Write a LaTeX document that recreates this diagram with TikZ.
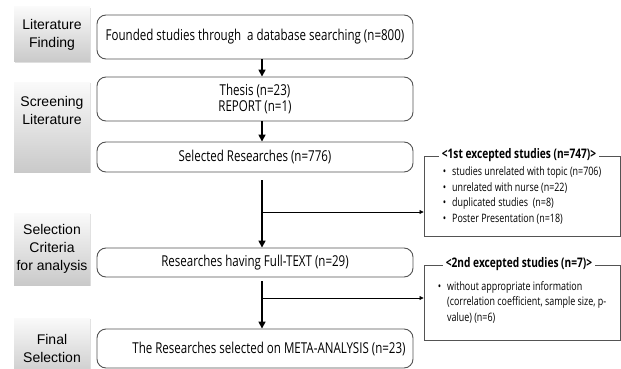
\documentclass[tikz,border=0pt]{standalone}
\usepackage{fontspec}
\newfontfamily\condfont[FakeStretch=0.77]{Open Sans}
\newfontfamily\labelfont{Liberation Sans}
\usetikzlibrary{positioning, shapes.geometric, arrows.meta, shadows}

\begin{document}
\begin{tikzpicture}[x=1pt, y=-1pt,
  stage/.style={rectangle, minimum width=76pt, inner sep=2pt, align=center, top color=gray!4, bottom color=gray!42, drop shadow={opacity=0.25, shadow xshift=0.8pt, shadow yshift=-1.2pt}, font=\labelfont\fontsize{14}{18}\selectfont},
  rbox/.style={rectangle, rounded corners=9pt, draw=gray!65!black, line width=0.9pt, minimum width=316pt, align=center, font=\condfont\fontsize{15}{16}\selectfont},
  xbox/.style={rectangle, draw=gray!65!black, line width=0.9pt, minimum width=196pt, font=\condfont\fontsize{11.6}{15.5}\selectfont},
  xtitle/.style={fill=white, inner sep=3pt, font=\condfont\bfseries\fontsize{13.2}{15}\selectfont},
  flow/.style={line width=1.6pt, -{Triangle[length=7pt, width=7pt]}},
  side/.style={line width=0.7pt, -{Triangle[length=4pt, width=4pt]}}]
  \useasboundingbox (0,0) rectangle (621,369);

  % stages on the left
  \draw (52,34.5) node[stage, minimum height=55pt](lf) {Literature\\Finding};
  \draw (52,127) node[stage, minimum height=90pt, text depth=34pt](sl) {Screening\\Literature};
  \draw (52,249) node[stage, minimum height=72pt](sc) {Selection\\Criteria\\for analysis};
  \draw (52,348) node[stage, minimum height=60pt](fs) {Final\\Selection};

  % main flow
  \draw (255,37) node[rbox, minimum height=44pt](fnd) {Founded studies through~ a database searching (n=800)};
  \draw (255,99) node[rbox, minimum height=44pt](ths) {Thesis (n=23)\\REPORT (n=1)};
  \draw (255,157) node[rbox, minimum height=30pt](sel) {Selected Researches (n=776)};
  \draw (255,262.5) node[rbox, minimum height=29pt](ful) {Researches having Full-TEXT (n=29)};
  \draw (255,348.5) node[rbox, minimum height=39pt](met) {\hspace*{28pt}The Researches selected on META-ANALYSIS (n=23)};

  % excluded studies
  \draw (522,196) node[xbox, minimum height=80pt](exa) {\begin{tabular}{@{}l@{\hspace{6pt}}l@{}}
    \textbullet & studies unrelated with topic (n=706)\\
    \textbullet & unrelated with nurse (n=22)\\
    \textbullet & duplicated studies~ (n=8)\\
    \textbullet & Poster Presentation (n=18)\end{tabular}};
  \node[xtitle] (tla) at ([xshift=-3pt]exa.north) {<1st excepted studies (n=747)>};
  \draw (522,302.5) node[xbox, minimum height=75pt](exb) {\begin{tabular}{@{}l@{\hspace{6pt}}l@{}}
    \textbullet & without appropriate information\\
     & (correlation coefficient, sample size, p-\\
     & value) (n=6)\end{tabular}};
  \node[xtitle] (tlb) at ([xshift=-3pt]exb.north) {<2nd excepted studies (n=7)>};

  \coordinate (bra) at (262,212);
  \coordinate (brb) at (262,298);

  \draw[flow] ([xshift=7pt]fnd.south) -- ([xshift=7pt]ths.north);
  \draw[flow] ([xshift=7pt]ths.south) -- ([xshift=7pt]sel.north);
  \draw[flow] ([xshift=7pt, yshift=-8pt]sel.south) -- ([xshift=7pt]ful.north);
  \draw[flow] ([xshift=7pt, yshift=-4pt]ful.south) -- ([xshift=7pt]met.north);
  \draw[side] (bra) -- (bra -| exa.west);
  \draw[side] (brb) -- (brb -| exb.west);
\end{tikzpicture}
\end{document}
